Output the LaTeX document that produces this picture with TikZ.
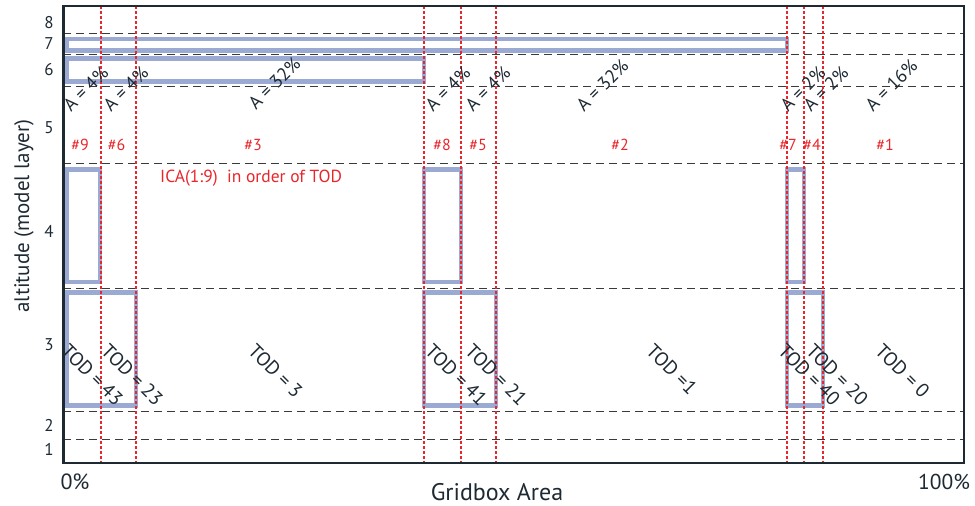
\documentclass[tikz,border=0pt]{standalone}
\usepackage{fontspec}
\setmainfont{PT Sans}
\definecolor{frameColor}{HTML}{1E2A33}
\definecolor{cellColor}{HTML}{9AAAD2}
\definecolor{icaRed}{HTML}{E8262B}
\definecolor{layerGray}{HTML}{3A3A3A}

\begin{document}
\begin{tikzpicture}[x=1pt, y=-1pt,
    layerline/.style={layerGray, line width=0.9pt, dash pattern=on 8pt off 5pt},
    icaline/.style={icaRed, line width=1.4pt, dash pattern=on 2.5pt off 2.5pt},
    cellbox/.style={cellColor, line width=4.5pt},
    ticklab/.style={text=frameColor, font=\fontsize{17}{17}\selectfont},
    areatxt/.style={rotate=45, anchor=base west, inner sep=0pt, text=frameColor, font=\fontsize{18.5}{18.5}\selectfont},
    todtxt/.style={rotate=-45, anchor=north west, inner sep=0pt, text=frameColor, font=\fontsize{19.5}{19.5}\selectfont},
    icatxt/.style={text=icaRed, font=\fontsize{16}{16}\selectfont}]
    \useasboundingbox (0,0) rectangle (975,506);

    % grid cells of each ICA
    \draw[cellbox] (66.5,39) rectangle (787,50.5);
    \draw[cellbox] (66.5,58.3) rectangle (424,81.5);
    \draw[cellbox] (66.5,169.5) rectangle (100,282);
    \draw[cellbox] (66.5,292.5) rectangle (136,405.5);
    \draw[cellbox] (424,169.5) rectangle (461,282);
    \draw[cellbox] (424,292.5) rectangle (496,405.5);
    \draw[cellbox] (787,169.5) rectangle (804,282);
    \draw[cellbox] (787,292.5) rectangle (823,405.5);

    % model layers
    \foreach \y in {33.5,54,86,163,288,411,439}
        \draw[layerline] (63,\y) -- (964,\y);

    % ICA borders
    \foreach \x in {101,136,424,461,496,787,804,823}
        \draw[icaline] (\x,6) -- (\x,463);

    \draw[frameColor, line width=2.6pt] (63.5,6) rectangle (964,463);

    \foreach \lab/\y in {8/23,7/44,6/70,5/128,4/231,3/345,2/425,1/449}
        \node[ticklab] (tick\lab) at (49,\y) {\lab};

    \node[rotate=90, text=frameColor, font=\fontsize{21}{21}\selectfont] (ylab) at (24,216) {altitude (model layer)};
    \node[text=frameColor, font=\fontsize{22}{22}\selectfont] (pct0) at (75,482) {0\%};
    \node[text=frameColor, font=\fontsize{21.5}{21.5}\selectfont] (pct100) at (944,482) {100\%};
    \node[text=frameColor, font=\fontsize{24}{24}\selectfont] (xlab) at (497,492) {Gridbox Area};

    % ICA numbers
    \foreach \n/\x in {9/80,6/116.5,3/253,8/442,5/478,2/620,7/788,4/812,1/885}
        \node[icatxt] (ica\n) at (\x,145) {\#\n};
    \node[icatxt, anchor=west, inner sep=0pt, font=\fontsize{17.5}{17.5}\selectfont] (icanote) at (160,178) {ICA(1:9)\ \ in order of TOD};

    % area fractions
    \node[areatxt] (area9) at (71,113) {A = 4\%};
    \node[areatxt] (area6) at (111,113) {A = 4\%};
    \node[areatxt] (area3) at (256,111) {A = 32\%};
    \node[areatxt] (area8) at (433,113) {A = 4\%};
    \node[areatxt] (area5) at (473,113) {A = 4\%};
    \node[areatxt] (area2) at (584,113) {A = 32\%};
    \node[areatxt] (area7) at (788,113) {A = 2\%};
    \node[areatxt] (area4) at (811,113) {A = 2\%};
    \node[areatxt] (area1) at (873,113) {A = 16\%};

    % time of detection
    \node[todtxt] (tod9) at (70,342) {TOD = 43};
    \node[todtxt] (tod6) at (110,342) {TOD = 23};
    \node[todtxt] (tod3) at (257,342) {TOD = 3};
    \node[todtxt] (tod8) at (434,342) {TOD = 41};
    \node[todtxt] (tod5) at (474,342) {TOD = 21};
    \node[todtxt] (tod2) at (655,342) {TOD =1};
    \node[todtxt] (tod7) at (787,342) {TOD = 40};
    \node[todtxt] (tod4) at (815,342) {TOD = 20};
    \node[todtxt] (tod1) at (884,342) {TOD = 0};
\end{tikzpicture}
\end{document}
